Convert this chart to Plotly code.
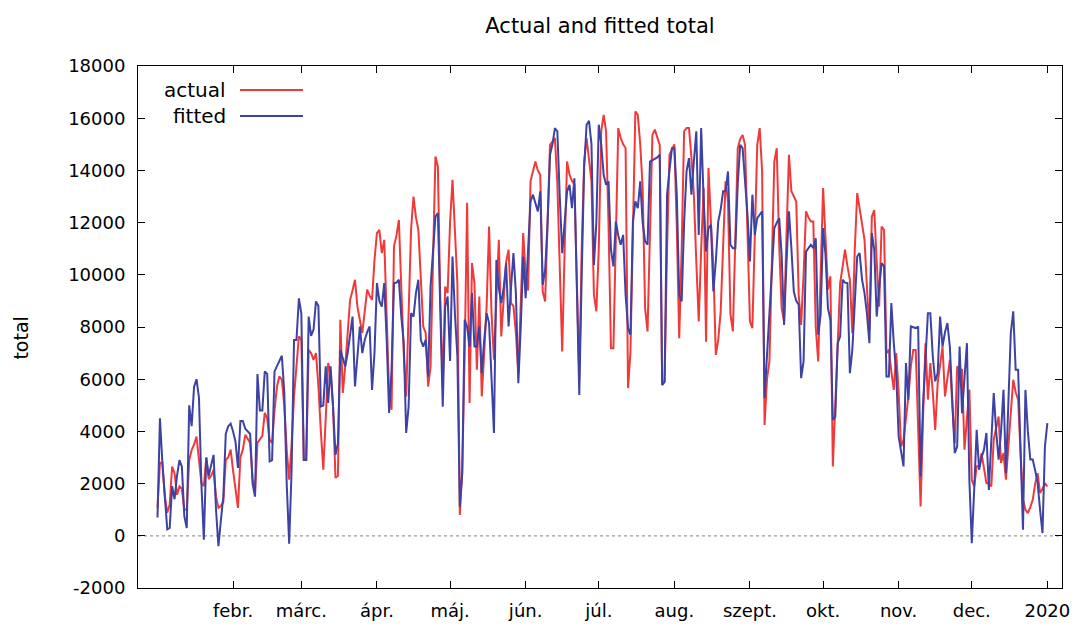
import pandas as pd
import plotly.graph_objects as go

# daily observations, 2019-01-01 .. 2020-01-01
dates = pd.date_range("2019-01-01", "2020-01-01", freq="D")

actual = [
    1070, 2800, 2800, 1500, 880, 1200, 2650, 2400, 1570, 1890,
    1800, 1000, 1000, 2900, 3280, 3500, 3800, 2900, 2030, 1900,
    3000, 2170, 2300, 2530, 1500, 1070, 1140, 1300, 2910, 3000,
    3300, 2500, 1700, 1070, 3000, 3300, 3870, 3700, 3560, 2200,
    1630, 3560, 3700, 3830, 4710, 4500, 3670, 3560, 4800, 5720,
    6110, 5980, 5000, 3300, 2150, 3500, 5340, 6500, 7640, 7510,
    2910, 2910, 7120, 7000, 6740, 7000, 5720, 4000, 2530, 4500,
    6620, 6230, 4950, 2220, 2300, 8280, 5470, 6500, 7770, 9040,
    9400, 9810, 8780, 8200, 7770, 8600, 9430, 9200, 9040, 10570,
    11600, 11720, 10830, 11340, 8000, 5470, 4830, 11090, 11500, 12100,
    9500, 7000, 5340, 9000, 11720, 13000, 12200, 11720, 10060, 8020,
    7770, 5720, 6490, 10500, 14530, 14150, 9000, 5720, 9550, 9300,
    12000, 13640, 11500, 9680, 800, 2500, 7000, 12760, 5090, 10450,
    9680, 6360, 9170, 5340, 7000, 8790, 11850, 8530, 6750, 9000,
    11340, 7640, 9000, 10500, 10960, 8920, 8800, 7770, 6230, 9000,
    11600, 10000, 9400, 13580, 14000, 14340, 14000, 13830, 9360, 8980,
    12000, 14980, 15100, 15240, 13500, 10000, 7060, 11000, 14340, 13830,
    13600, 13450, 9500, 6040, 11000, 14340, 15240, 14500, 13580, 9240,
    8600, 11000, 15500, 16130, 15500, 11920, 7190, 7190, 11000, 15620,
    15240, 15000, 14850, 5660, 7060, 12000, 16260, 16130, 15000, 13320,
    8720, 7830, 12000, 15360, 15560, 15300, 14980, 5780, 5910, 11000,
    14600, 14800, 15000, 11800, 7570, 11000, 15500, 15620, 15620, 14500,
    13070, 10500, 8210, 11000, 13320, 7440, 14090, 12000, 10320, 6930,
    7500, 8600, 11000, 13580, 12810, 8500, 7830, 11000, 14850, 15200,
    15360, 14980, 11000, 8210, 7960, 11500, 14980, 15620, 13960, 4250,
    6000, 6680, 10500, 14340, 14850, 11150, 8720, 8210, 11500, 14600,
    13200, 13000, 12810, 9230, 8080, 10000, 12430, 12200, 12040, 12040,
    8000, 6680, 9750, 13320, 11400, 9430, 9940, 2660, 5000, 7640,
    9680, 10300, 10960, 10320, 9810, 7760, 10960, 13130, 12500, 11850,
    11340, 9500, 7890, 12230, 12480, 10500, 8780, 11850, 11720, 7000,
    7130, 6300, 5590, 7000, 5500, 3420, 3680, 4500, 5340, 6500,
    7120, 7120, 4000, 1120, 4500, 7380, 5220, 6620, 5500, 4060,
    5850, 6500, 7250, 5340, 6000, 6740, 5000, 3550, 6490, 6400,
    6360, 3300, 4500, 5600, 2150, 1890, 2660, 2660, 3170, 2600,
    2020, 2000, 1890, 3680, 4200, 4570, 2790, 3170, 2150, 3500,
    4830, 5980, 5500, 5220, 3170, 1380, 1000, 870, 1100, 1380,
    2000, 2400, 1640, 1800, 2020, 1890,
]

fitted = [
    700, 4500, 2800, 1500, 250, 300, 1900, 1400, 2300, 2900,
    2650, 750, 300, 5000, 4200, 5700, 6000, 5300, 2000, -150,
    3000, 2300, 2700, 3100, 1000, -400, 600, 1500, 3900, 4200,
    4300, 4000, 3600, 2600, 4400, 4400, 4100, 4000, 3900, 2000,
    1500, 6200, 4800, 4800, 6300, 6200, 2850, 2900, 6300, 6500,
    6700, 6900, 5500, 2000, -300, 2500, 7500, 7500, 9100, 8500,
    2900, 2900, 8400, 7660, 7900, 8980, 8800, 4950, 4990, 6490,
    5090, 6490, 4950, 3100, 3550, 7120, 6800, 6490, 7000, 7700,
    8400, 5720, 7000, 8020, 7000, 7500, 7800, 8020, 5590, 7000,
    9680, 9000, 8780, 9680, 7500, 4710, 6360, 9680, 9700, 9810,
    8400, 7400, 3940, 4950, 8530, 8400, 9300, 9810, 7510, 7250,
    7510, 6100, 9550, 11000, 12230, 12360, 8000, 4950, 8780, 9170,
    6700, 10700, 8500, 6880, 1120, 2410, 8280, 8000, 7250, 9300,
    7250, 7250, 8020, 6230, 7500, 8530, 8150, 6000, 3940, 10570,
    9500, 8920, 9500, 10440, 8020, 9500, 10830, 9300, 5850, 8000,
    10700, 9100, 11000, 12810, 13070, 12700, 12430, 13200, 9620, 10190,
    12000, 14600, 15000, 15620, 15500, 13000, 10830, 12000, 13200, 13450,
    12550, 13700, 9000, 5400, 10000, 14100, 15750, 15900, 15000, 10380,
    12000, 15750, 15000, 13830, 13450, 13580, 10960, 10320, 12040, 11500,
    11150, 11530, 9230, 7960, 7700, 12040, 12810, 12550, 13580, 12000,
    11280, 11150, 14340, 14400, 14470, 14500, 14600, 5780, 5910, 13070,
    14000, 14850, 14850, 13070, 9230, 8980, 12000, 13960, 14470, 13070,
    14340, 15500, 11530, 15620, 12940, 10890, 11790, 11920, 9360, 10500,
    12040, 12500, 13200, 13200, 13960, 11150, 11020, 11020, 13500, 14980,
    14850, 13500, 12300, 10510, 13070, 11530, 12170, 12300, 12430, 5280,
    6810, 8500, 10250, 11790, 12000, 12170, 10770, 8080, 10500, 12430,
    11020, 9360, 9000, 8850, 6040, 6680, 10890, 11000, 11150, 11020,
    11400, 7700, 8470, 11790, 10770, 8720, 8280, 4440, 4560, 7380,
    7630, 9810, 9700, 9680, 6230, 7120, 9000, 10700, 10830, 9810,
    9300, 8500, 7380, 11600, 10960, 8400, 9500, 10450, 10320, 6100,
    6100, 8920, 7380, 6230, 3800, 3170, 2660, 6620, 5210, 8020,
    8000, 7960, 8020, 2270, 5000, 6870, 8530, 8530, 6870, 5920,
    6230, 8400, 7250, 7800, 8150, 7250, 5000, 3170, 3420, 7250,
    4700, 6000, 7380, 2150, -280, 1800, 4060, 2530, 3000, 3300,
    3940, 1760, 3500, 5470, 4000, 2920, 4000, 5590, 2400, 5000,
    7770, 8600, 6360, 6360, 3000, 230, 5590, 4000, 2920, 2920,
    2500, 2020, 1000, 100, 3430, 4320,
]

month_ticks = ["2019-02-01", "2019-03-01", "2019-04-01", "2019-05-01", "2019-06-01",
               "2019-07-01", "2019-08-01", "2019-09-01", "2019-10-01", "2019-11-01",
               "2019-12-01", "2020-01-01"]
month_labels = ["febr.", "márc.", "ápr.", "máj.", "jún.", "júl.", "aug.",
                "szept.", "okt.", "nov.", "dec.", "2020"]
y_ticks = list(range(-2000, 18001, 2000))
y_labels = [str(v) for v in y_ticks]

RED = "#f03a3a"
BLUE = "#3d42a3"
FONT = "DejaVu Sans"

fig = go.Figure()
fig.add_trace(go.Scatter(x=dates, y=actual, mode="lines", name="actual",
                         line=dict(color=RED, width=2), showlegend=False))
fig.add_trace(go.Scatter(x=dates, y=fitted, mode="lines", name="fitted",
                         line=dict(color=BLUE, width=2), showlegend=False))

# zero reference line
fig.add_shape(type="line", xref="paper", x0=0, x1=1, yref="y", y0=0, y1=0,
              line=dict(color="#9a9a9a", width=1.2, dash="dot"), layer="below")

# gnuplot-style legend: text then line sample
legend_items = [("actual", RED, 0.954), ("fitted", BLUE, 0.904)]
for label, col, yp in legend_items:
    fig.add_annotation(x=0.0974, y=yp, xref="paper", yref="paper", text=label,
                       showarrow=False, xanchor="right", yanchor="middle",
                       font=dict(family=FONT, size=20, color="black"))
    fig.add_shape(type="line", xref="paper", yref="paper", x0=0.1104, x1=0.1786,
                  y0=yp, y1=yp, line=dict(color=col, width=2))

fig.add_annotation(x=-0.127, y=0.479, xref="paper", yref="paper", text="total",
                   textangle=-90, showarrow=False, xanchor="center", yanchor="middle",
                   font=dict(family=FONT, size=19, color="black"))

fig.update_layout(
    width=1075, height=626,
    margin=dict(l=138, r=13, t=66, b=38, autoexpand=False),
    paper_bgcolor="white", plot_bgcolor="white",
    font=dict(family=FONT, size=18, color="black"),
    title=dict(text="Actual and fitted total", x=0.5, xref="paper",
               y=1 - 26 / 626, yref="container", yanchor="middle",
               font=dict(family=FONT, size=21, color="black")),
    xaxis=dict(type="date", range=["2018-12-24", "2020-01-07"],
               tickvals=month_ticks, ticktext=month_labels,
               showgrid=False, zeroline=False, automargin=False,
               showline=True, linecolor="black", linewidth=1, mirror="ticks",
               ticks="inside", ticklen=7, tickcolor="black",
               ticklabelstandoff=6,
               tickfont=dict(family=FONT, size=18, color="black")),
    yaxis=dict(range=[-2000, 18000], tickvals=y_ticks, ticktext=y_labels,
               showgrid=False, zeroline=False, automargin=False,
               showline=True, linecolor="black", linewidth=1, mirror="ticks",
               ticks="inside", ticklen=7, tickcolor="black",
               ticklabelstandoff=8,
               tickfont=dict(family=FONT, size=18, color="black")),
)

fig.write_html("out.html", config={"displayModeBar": False},
               post_script="document.body.style.margin='0';")
